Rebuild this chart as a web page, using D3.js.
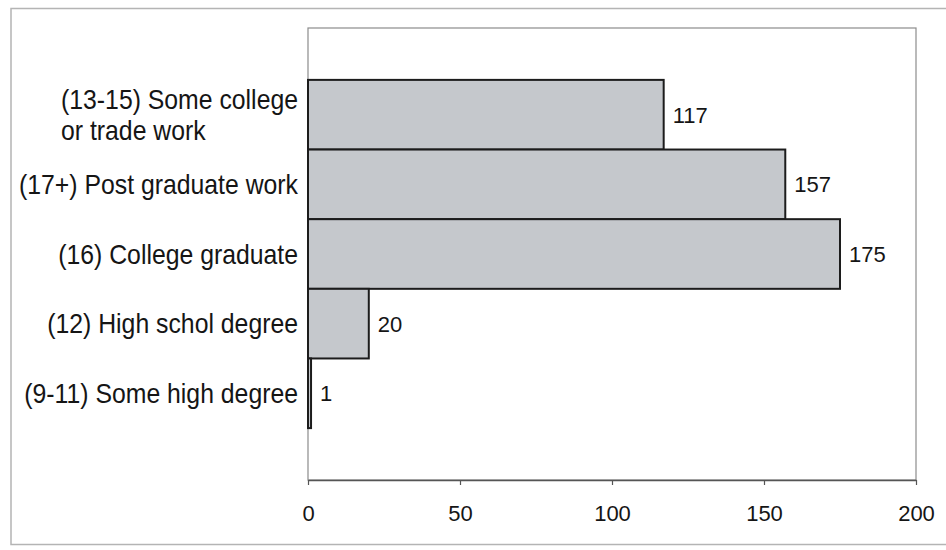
<!DOCTYPE html>
<html>
<head>
<meta charset="utf-8">
<script src="https://cdn.jsdelivr.net/npm/d3@7"></script>
<style>
  body { margin: 0; background: #fff; }
  text { font-family: "Liberation Sans", Arial, Helvetica, sans-serif; fill: #151515; }
</style>
</head>
<body>
<svg id="chart" width="946" height="550"></svg>
<script>
// Education level of respondents (count)
const categories = [
  "(13-15) Some college\nor trade work",
  "(17+) Post graduate work",
  "(16) College graduate",
  "(12) High schol degree",
  "(9-11) Some high degree"
];
const values = [117, 157, 175, 20, 1];
const xTicks = [0, 50, 100, 150, 200];

const svg = d3.select("#chart");
const plot = { left: 308, right: 916, top: 28, bottom: 480 };

// outer frame
svg.append("rect")
  .attr("x", 11).attr("y", 8.5)
  .attr("width", 960).attr("height", 536)
  .attr("fill", "none").attr("stroke", "#b4b4b4").attr("stroke-width", 1.5);

const x = d3.scaleLinear().domain([0, 200]).range([plot.left, plot.right]);
const y = d3.scaleBand().domain(categories)
  .range([plot.top, plot.bottom]).paddingInner(0).paddingOuter(0.745);

// plot area border
svg.append("rect")
  .attr("x", plot.left).attr("y", plot.top)
  .attr("width", plot.right - plot.left).attr("height", plot.bottom - plot.top)
  .attr("fill", "none").attr("stroke", "#8c8c8c").attr("stroke-width", 1.2);

// bars
svg.append("g").selectAll("rect")
  .data(categories)
  .join("rect")
  .attr("x", x(0))
  .attr("y", d => y(d))
  .attr("width", (d, i) => x(values[i]) - x(0))
  .attr("height", y.bandwidth())
  .attr("fill", "#c5c8cc")
  .attr("stroke", "#1c1c1c")
  .attr("stroke-width", 2);

// value labels
svg.append("g").selectAll("text")
  .data(categories)
  .join("text")
  .attr("x", (d, i) => x(values[i]) + 9)
  .attr("y", d => y(d) + y.bandwidth() / 2)
  .attr("dy", "0.36em")
  .attr("font-size", 22)
  .text((d, i) => values[i]);

// category labels (multi-line labels are left-aligned as a block),
// drawn slightly taller than wide to suit the narrow face
const labelRight = 298;
const lineGap = 31;
const stretchY = 1.08;
categories.forEach(c => {
  const lines = c.split("\n");
  const cy = y(c) + y.bandwidth() / 2;
  const t = svg.append("text")
    .attr("font-size", 24.8)
    .attr("transform", `translate(0,${cy}) scale(1,${stretchY})`);
  lines.forEach((ln, k) => {
    t.append("tspan")
      .attr("y", (k - (lines.length - 1) / 2) * lineGap / stretchY)
      .attr("dy", "0.36em")
      .text(ln);
  });
  const widths = t.selectAll("tspan").nodes().map(n => n.getComputedTextLength());
  const w = d3.max(widths);
  t.selectAll("tspan").attr("x", labelRight - w);
});

// x axis
const axis = svg.append("g")
  .attr("transform", `translate(0,${plot.bottom})`)
  .call(d3.axisBottom(x).tickValues(xTicks).tickSize(5).tickPadding(20).tickSizeOuter(0));
axis.select(".domain").attr("stroke", "#555").attr("stroke-width", 1.3);
axis.selectAll(".tick line").attr("stroke", "#555").attr("stroke-width", 1.2);
axis.selectAll(".tick text")
  .attr("font-size", 22)
  .attr("font-family", "\"Liberation Sans\", Arial, sans-serif")
  .attr("fill", "#151515");
</script>
</body>
</html>
